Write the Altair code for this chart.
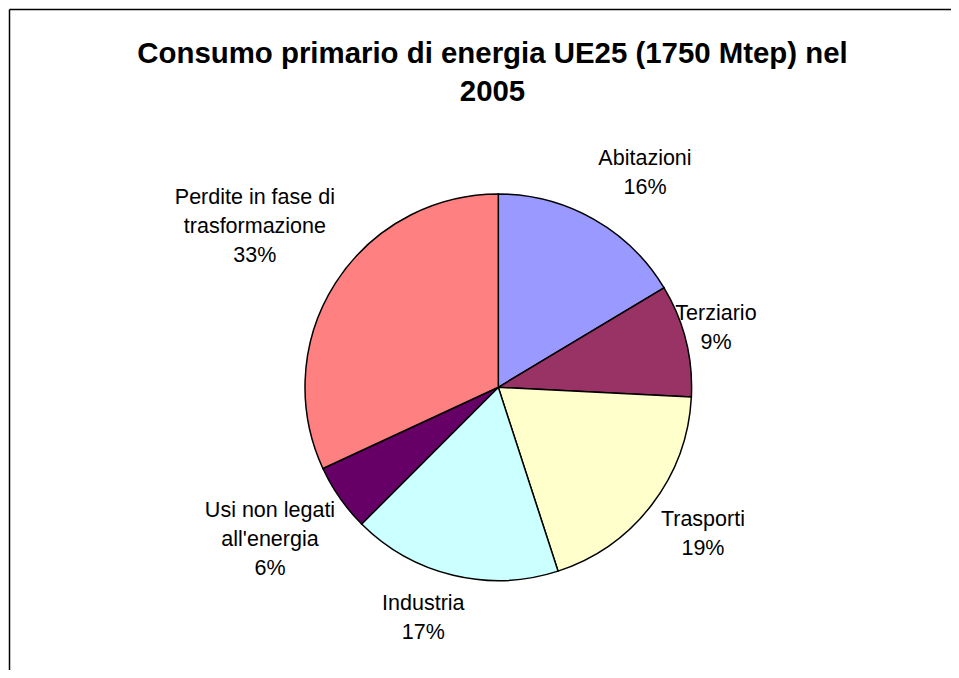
import numpy as np
import pandas as pd
import altair as alt

# ---------------- data ----------------
categories = ["Abitazioni", "Terziario", "Trasporti", "Industria",
              "Usi non legati all'energia", "Perdite in fase di trasformazione"]
shares = [16.4, 9.4, 19.2, 17.5, 5.6, 31.9]
pct_labels = ["16%", "9%", "19%", "17%", "6%", "33%"]
label_lines = [["Abitazioni"], ["Terziario"], ["Trasporti"], ["Industria"],
               ["Usi non legati", "all'energia"],
               ["Perdite in fase di", "trasformazione"]]
colors = ["#9999FF", "#993366", "#FFFFCC", "#CCFFFF", "#660066", "#FF8080"]
title_lines = ["Consumo primario di energia UE25 (1750 Mtep) nel", "2005"]

# ---------------- style / layout ----------------
W, H = 943, 662
CX, CY = 490.3, 379.3       # pie centre (view coords)
R = 193.3                   # pie radius
label_radius = [259.5, 225.5, 251.8, 243.3, 274.8, 291.5]
label_nudge_deg = [4.9, -1.1, -1.8, 4.45, 1.1, 0.8]
FONT = "Liberation Sans"
LAB_FS, LAB_LH = 21.5, 29

# ---------------- tables ----------------
pie_df = pd.DataFrame({"category": categories, "share": shares,
                       "idx": list(range(len(categories)))})

total = float(sum(shares))
starts = np.concatenate([[0.0], np.cumsum(shares)[:-1]])
mids = (starts + np.array(shares) / 2.0) / total * 360.0 + np.array(label_nudge_deg)
th = np.deg2rad(mids)
nlines = np.array([len(l) + 1 for l in label_lines])
lab_df = pd.DataFrame({
    "text": ["\n".join(l + [p]) for l, p in zip(label_lines, pct_labels)],
    "px": CX + np.array(label_radius) * np.sin(th),
    "py": CY - np.array(label_radius) * np.cos(th) - (nlines - 1) * LAB_LH / 2.0,
})

title_df = pd.DataFrame({"text": title_lines, "py": [54.7, 93.0]})
border_df = pd.DataFrame({"x": [1.5, 1.5], "x2": [W + 10, 1.5],
                          "y": [1.5, 1.5], "y2": [1.5, H + 10]})

# ---------------- layers ----------------
border = alt.Chart(border_df).mark_rule(color="black", strokeWidth=1.5).encode(
    x=alt.X("x:Q", scale=None), x2="x2:Q",
    y=alt.Y("y:Q", scale=None), y2="y2:Q")

pie = alt.Chart(pie_df).mark_arc(outerRadius=R, stroke="black", strokeWidth=1.5).encode(
    theta=alt.Theta("share:Q", stack=True),
    color=alt.Color("category:N", scale=alt.Scale(domain=categories, range=colors), legend=None),
    order=alt.Order("idx:Q"),
    x=alt.value(CX), y=alt.value(CY),
)

labels = alt.Chart(lab_df).mark_text(
    font=FONT, fontSize=LAB_FS, lineHeight=LAB_LH, lineBreak="\n",
    align="center", baseline="middle", color="black",
).encode(
    x=alt.X("px:Q", scale=None), y=alt.Y("py:Q", scale=None), text="text:N")

title = alt.Chart(title_df).mark_text(
    font=FONT, fontSize=29.4, fontWeight="bold", align="center",
    baseline="alphabetic", color="black",
).encode(x=alt.value(484.5), y=alt.Y("py:Q", scale=None), text="text:N")

chart = alt.layer(border, pie, labels, title).properties(
    width=W, height=H,
    autosize=alt.AutoSizeParams(type="none"),
    padding=0,
    background="white",
).configure_view(stroke=None, strokeWidth=0)

chart.save("out.html", embed_options={"renderer": "svg", "actions": False})
